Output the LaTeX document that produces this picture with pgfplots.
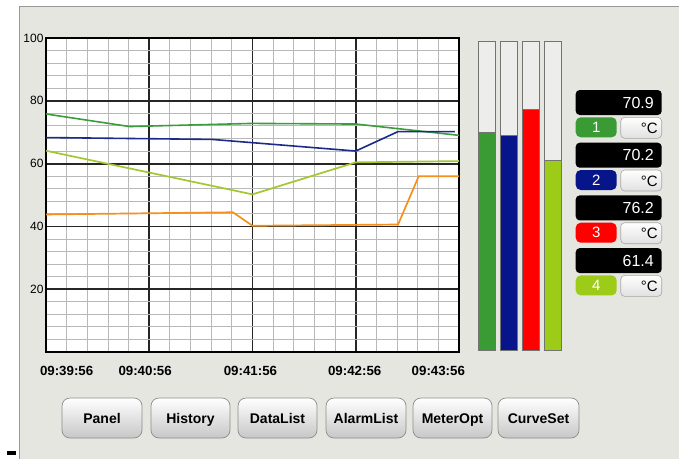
\documentclass[border=0pt]{standalone}
\usepackage{pgfplots}
\pgfplotsset{compat=1.18}
\usepackage{fontspec}
\setmainfont{Liberation Sans}
\definecolor{panelbg}{HTML}{E6E6E1}
\definecolor{cGreen}{HTML}{3C9C3C}
\definecolor{cBlue}{HTML}{1C2A8C}
\definecolor{cLime}{HTML}{A2C830}
\definecolor{cOrange}{HTML}{F5901E}
\definecolor{bGreen}{HTML}{3A9A33}
\definecolor{bBlue}{HTML}{06168A}
\definecolor{bRed}{HTML}{FF0000}
\definecolor{bLime}{HTML}{9CCC18}
\definecolor{barbg}{HTML}{EDEDEB}
\begin{document}
\begin{tikzpicture}[x=1pt,y=1pt]
\path[use as bounding box] (0,0) rectangle (679,459);
\fill[white] (0,0) rectangle (679,459);
\fill[panelbg] (19,0) rectangle (679,453);
\draw[black!40, line width=0.8pt] (19,0) -- (19,453) -- (679,453);
\fill[black] (7,4.3) rectangle (16,8.3);

% main trend axis
\begin{axis}[
  at={(46pt,107pt)}, anchor=south west,
  scale only axis, width=413pt, height=314pt,
  xmin=0, xmax=4, ymin=0, ymax=100,
  xtick={0,1,2,3,4}, xticklabels={},
  ytick={0,20,40,60,80,100}, yticklabels={,20,40,60,80,100},
  minor x tick num=4, minor y tick num=4,
  grid=both,
  major grid style={black!85, line width=1.8pt},
  minor grid style={black!28, line width=0.9pt},
  major tick length=0pt, minor tick length=0pt,
  axis line style={black, line width=2.4pt},
  axis background/.style={fill=white},
  yticklabel style={font=\fontsize{12}{14}\selectfont, xshift=1pt},
  extra x ticks={0.2,0.96,1.98,2.99,3.8},
  extra x tick labels={09:39:56,09:40:56,09:41:56,09:42:56,09:43:56},
  extra x tick style={grid=none, major tick length=0pt,
    tick label style={font=\bfseries\fontsize{13.3}{15}\selectfont, yshift=-11pt}},
  clip=false,
]
\addplot[cLime, line width=1.7pt] coordinates {(0,64.1)(2,50.2)(3,60.4)(4,60.8)};
\addplot[cOrange, line width=1.7pt] coordinates {(0,43.8)(1.81,44.5)(2,40.2)(3.41,40.6)(3.61,56.0)(4,56.0)};
\addplot[cGreen, line width=1.6pt] coordinates {(0,75.8)(0.81,71.8)(2,72.8)(3,72.6)(4,69.0)};
\addplot[cBlue, line width=1.6pt] coordinates {(0,68.3)(1.61,67.7)(3,64.0)(3.41,70.2)(3.96,70.2)};
\end{axis}

% bar gauges
\begin{axis}[
  at={(475.7pt,108.3pt)}, anchor=south west,
  scale only axis, width=88pt, height=309pt,
  xmin=0.5, xmax=4.5, ymin=0, ymax=100,
  hide axis, clip=false,
]
\addplot[ybar, bar width=16.7pt, bar shift=0pt, fill=barbg, draw=black!55, line width=0.7pt]
  coordinates {(1,100)(2,100)(3,100)(4,100)};
\addplot[ybar, bar width=16.7pt, bar shift=0pt, fill=bGreen, draw=black!55, line width=0.7pt]
  coordinates {(1,70.6)};
\addplot[ybar, bar width=16.7pt, bar shift=0pt, fill=bBlue, draw=black!55, line width=0.7pt]
  coordinates {(2,69.7)};
\addplot[ybar, bar width=16.7pt, bar shift=0pt, fill=bRed, draw=black!55, line width=0.7pt]
  coordinates {(3,78.1)};
\addplot[ybar, bar width=16.7pt, bar shift=0pt, fill=bLime, draw=black!55, line width=0.7pt]
  coordinates {(4,61.7)};
\end{axis}

% value boxes
\foreach \k/\val/\col in {0/70.9/bGreen,1/70.2/bBlue,2/76.2/bRed,3/61.4/bLime}{
  \pgfmathsetmacro{\d}{52.7*\k}
  \pgfmathtruncatemacro{\n}{\k+1}
  \fill[black, rounded corners=4pt] (575.7,344-\d) rectangle (661.7,369-\d);
  \node[anchor=east, text=white, inner sep=0pt, font=\fontsize{16}{18}\selectfont] at (654,356.5-\d) {\val};
  \fill[\col, rounded corners=5pt] (575.7,321.7-\d) rectangle (616.7,341.7-\d);
  \node[text=white, inner sep=0pt, font=\fontsize{15}{17}\selectfont] at (596.2,331.7-\d) {\n};
  \shadedraw[rounded corners=4pt, top color=white, bottom color=black!12, draw=black!35, line width=0.6pt] (620.7,320.7-\d) rectangle (661.7,341.7-\d);
  \node[anchor=east, inner sep=0pt, font=\fontsize{15}{17}\selectfont] at (658,330.7-\d) {°C};
}

% buttons
\foreach \xa/\xb/\lab in {62/142/Panel,151/230/History,238/317/DataList,326/406/AlarmList,413/492/MeterOpt,498/579/CurveSet}{
  \shadedraw[rounded corners=8pt, top color=white, middle color=white, bottom color=black!22, draw=black!45, line width=0.7pt] (\xa,21) rectangle (\xb,61);
  \node[anchor=base, inner sep=0pt, font=\bfseries\fontsize{14}{16}\selectfont] at ({(\xa+\xb)/2},36) {\lab};
}
\end{tikzpicture}
\end{document}
